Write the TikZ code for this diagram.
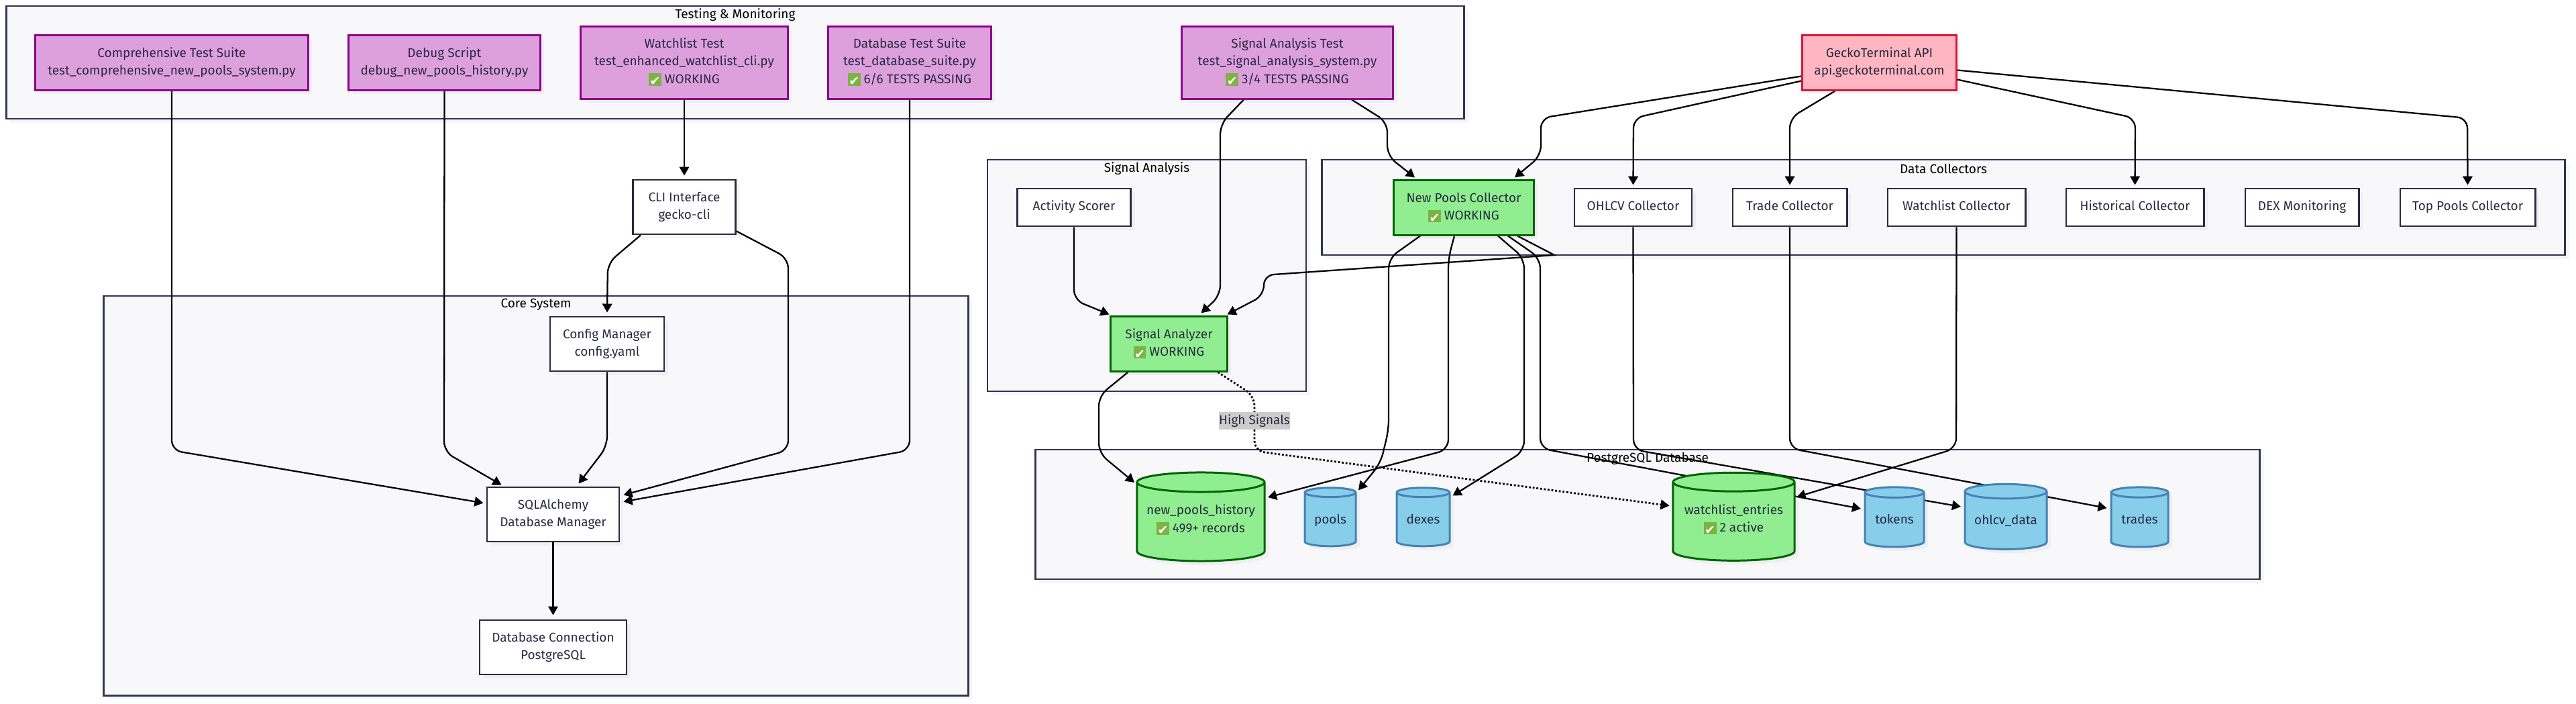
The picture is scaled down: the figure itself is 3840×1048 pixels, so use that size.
\documentclass[tikz,border=0pt]{standalone}
\usepackage{fontspec}
\setmainfont{Fira Sans}
\newfontfamily\symfont{DejaVu Sans}
\usetikzlibrary{arrows.meta,shapes.geometric,shadows}
\definecolor{ink}{RGB}{42,42,66}
\definecolor{rim}{RGB}{51,51,85}
\definecolor{pale}{RGB}{248,248,251}
\definecolor{plum}{RGB}{221,160,221}
\definecolor{plumrim}{RGB}{139,0,139}
\definecolor{mint}{RGB}{144,238,144}
\definecolor{mintrim}{RGB}{0,100,0}
\definecolor{rose}{RGB}{255,182,193}
\definecolor{roserim}{RGB}{220,20,60}
\definecolor{sky}{RGB}{135,206,235}
\definecolor{skyrim}{RGB}{70,130,180}
\definecolor{okgreen}{RGB}{124,179,66}
\newcommand{\okmark}{\smash{\raisebox{-1pt}{\setlength{\fboxsep}{0pt}\colorbox{okgreen}{\makebox[5.3pt]{\rule{0pt}{5.3pt}\textcolor{white}{\fontsize{5.4}{5}\symfont ✔}}}}}}
\newcommand{\labelfont}{\fontsize{5.4}{7.5}\selectfont}
\pgfdeclarelayer{frames}
\pgfdeclarelayer{wires}
\pgfsetlayers{frames,wires,main}
\tikzset{
  >={Triangle[length=1.3mm,width=1.45mm]},
  soft/.style={drop shadow={shadow xshift=0.06cm,shadow yshift=-0.06cm,opacity=0.07}},
  cluster/.style={draw=rim,fill=pale,line width=0.75pt,soft,inner sep=0pt},
  clustertitle/.style={font=\labelfont,text=black,inner sep=0pt},
  box/.style={draw=#1,line width=0.85pt,soft,align=center,inner sep=0pt,text=ink,
    font=\labelfont,text depth=2pt,text height=4.8pt},
  two lines/.style={text height=12.4pt},
  three lines/.style={text height=19.4pt},
  plain/.style={box=ink,fill=white,line width=0.8pt},
  test/.style={box=plumrim,fill=plum},
  live/.style={box=mintrim,fill=mint},
  api/.style={box=roserim,fill=rose},
  db/.style={cylinder,shape border rotate=90,draw=#1,line width=0.85pt,soft,align=center,
    inner sep=0pt,text=ink,font=\labelfont,text depth=2pt,text height=5.4pt},
  skydb/.style={db=skyrim,fill=sky},
  mintdb/.style={db=mintrim,fill=mint,text height=10.6pt},
  flow/.style={->,line width=0.65pt,black,rounded corners=0.15cm},
  hint/.style={flow,line width=0.8pt,dash pattern=on 0.8pt off 0.8pt},
  tag/.style={fill=black!20,text=ink,inner sep=0pt,minimum width=1.04cm,minimum height=0.26cm,
    font=\labelfont},
}
\begin{document}
\begin{tikzpicture}[x=0.01cm,y=-0.01cm]
  \useasboundingbox (0,0) rectangle (3840,1048);
  % groups
  \begin{pgfonlayer}{frames}
    \node[cluster,minimum width=21.72cm,minimum height=1.68cm] (testing) at (1096,93) {};
    \node[cluster,minimum width=4.75cm,minimum height=3.45cm] (signal) at (1709.5,410.5) {};
    \node[cluster,minimum width=18.52cm,minimum height=1.42cm] (collectors) at (2897,309) {};
    \node[cluster,minimum width=12.88cm,minimum height=5.95cm] (core) at (799,738.5) {};
    \node[cluster,minimum width=18.24cm,minimum height=1.93cm] (postgres) at (2456,766.5) {};
    \node[clustertitle] (testingtitle) at (1096,22) {Testing \& Monitoring};
    \node[clustertitle] (signaltitle) at (1709.5,251) {Signal Analysis};
    \node[clustertitle] (collectorstitle) at (2897,251) {Data Collectors};
    \node[clustertitle] (coretitle) at (799,454) {Core System};
    \node[clustertitle] (postgrestitle) at (2456,683) {PostgreSQL Database};
  \end{pgfonlayer}
  % tests
  \node[test,two lines,minimum width=4.06cm,minimum height=0.81cm] (suite) at (256,93.5) {Comprehensive Test Suite\\test\_comprehensive\_new\_pools\_system.py};
  \node[test,two lines,minimum width=2.85cm,minimum height=0.81cm] (debug) at (662.5,93.5) {Debug Script\\debug\_new\_pools\_history.py};
  \node[test,three lines,minimum width=3.08cm,minimum height=1.07cm] (wltest) at (1020,93.5) {Watchlist Test\\test\_enhanced\_watchlist\_cli.py\\\okmark{} WORKING};
  \node[test,three lines,minimum width=2.42cm,minimum height=1.07cm] (dbtest) at (1356,93.5) {Database Test Suite\\test\_database\_suite.py\\\okmark{} 6/6 TESTS PASSING};
  \node[test,three lines,minimum width=3.14cm,minimum height=1.07cm] (sigtest) at (1919,93.5) {Signal Analysis Test\\test\_signal\_analysis\_system.py\\\okmark{} 3/4 TESTS PASSING};
  % core
  \node[plain,two lines,minimum width=1.53cm,minimum height=0.81cm] (cli) at (1020,308.5) {CLI Interface\\gecko-cli};
  \node[plain,two lines,minimum width=1.70cm,minimum height=0.81cm] (config) at (905,512.5) {Config Manager\\config.yaml};
  \node[plain,two lines,minimum width=1.97cm,minimum height=0.81cm] (dbman) at (824.5,766.5) {SQLAlchemy\\Database Manager};
  \node[plain,two lines,minimum width=2.19cm,minimum height=0.81cm] (dbconn) at (824.5,964.5) {Database Connection\\PostgreSQL};
  % collectors
  \node[api,two lines,minimum width=2.29cm,minimum height=0.81cm] (gecko) at (2801.5,93.5) {GeckoTerminal API\\api.geckoterminal.com};
  \node[live,two lines,minimum width=2.08cm,minimum height=0.81cm] (newpools) at (2182,309.5) {New Pools Collector\\\okmark{} WORKING};
  \foreach \name/\x/\w/\label in {ohlcv/2434.5/1.75/OHLCV Collector,trade/2668/1.70/Trade Collector,
      wlcoll/2916.5/2.05/Watchlist Collector,hist/3182.5/2.05/Historical Collector,
      dex/3431.5/1.69/DEX Monitoring,top/3678.5/2.01/Top Pools Collector}
    \node[plain,minimum width=\w cm,minimum height=0.56cm] (\name) at (\x,309) {\label};
  % signals
  \node[plain,minimum width=1.69cm,minimum height=0.56cm] (scorer) at (1601,309) {Activity Scorer};
  \node[live,two lines,minimum width=1.73cm,minimum height=0.81cm] (analyzer) at (1742.5,512.5) {Signal Analyzer\\\okmark{} WORKING};
  % tables
  \node[mintdb,minimum width=1.90cm,minimum height=1.32cm,aspect=0.18] (history) at (1790,778) {new\_pools\_history\\\okmark{} 499+ records};
  \node[mintdb,minimum width=1.81cm,minimum height=1.31cm,aspect=0.19] (wlentries) at (2584.5,777.5) {watchlist\_entries\\\okmark{} 2 active};
  \foreach \name/\x/\y/\w/\h/\a/\label in {pools/1983/774.5/0.76/0.87/0.29/pools,dexes/2121.5/774.5/0.79/0.87/0.28/dexes,
      tokens/2824/775/0.88/0.89/0.27/tokens,ohlcvdata/2990/776/1.22/0.97/0.23/ohlcv\_data,trades/3189.5/775/0.85/0.89/0.28/trades}
    \node[skydb,minimum width=\w cm,minimum height=\h cm,aspect=\a] (\name) at (\x,\y) {\label};
  % connectors
  \begin{pgfonlayer}{wires}
    \draw[flow] (suite.south) -- (256,671) -- ([shift={(-104,-17)}]dbman.center);
    \draw[flow] (debug.south) -- (662,673) -- ([shift={(-77,-2)}]dbman.north);
    \draw[flow] (wltest.south) -- ([yshift=0.05cm]cli.north);
    \draw[flow] ([shift={(-65,0)}]cli.south) -- (906,392) -- ([yshift=0.05cm]config.north);
    \draw[flow] ([shift={(0,36)}]cli.east) -- (1175,385) -- (1175,671) -- ([shift={(5,-29)}]dbman.east);
    \draw[flow] (dbtest.south) -- (1356,671) -- ([shift={(5,-19)}]dbman.east);
    \draw[flow] (config.south) -- (905,665) -- ([shift={(38,-4)}]dbman.north);
    \draw[flow] (dbman.south) -- ([yshift=0.06cm]dbconn.north);
    \draw[flow] ([shift={(-65,0)}]sigtest.south) -- (1819,185) -- (1819,440) -- ([shift={(48,-4)}]analyzer.north);
    \draw[flow] ([shift={(96,0)}]sigtest.south) -- (2068,182) -- (2068,232) -- ([shift={(-73,-3)}]newpools.north);
    \draw[flow] ([shift={(0,20)}]gecko.west) -- (2297,176) -- (2297,232) -- ([shift={(76,-3)}]newpools.north);
    \draw[flow] ([shift={(0,27)}]gecko.west) -- (2435,176) -- ([yshift=0.04cm]ohlcv.north);
    \draw[flow] ([shift={(-66,0)}]gecko.south) -- (2668,176) -- ([yshift=0.04cm]trade.north);
    \draw[flow] ([shift={(0,25)}]gecko.east) -- (3183,176) -- ([yshift=0.04cm]hist.north);
    \draw[flow] ([shift={(0,11)}]gecko.east) -- (3678,176) -- ([yshift=0.04cm]top.north);
    \draw[flow] (scorer.south) -- (1601,447) -- ([shift={(-1,-2)}]analyzer.north west);
    \draw[flow] ([shift={(80,0)}]newpools.south) [sharp corners] -- (2317,380) [rounded corners=0.15cm] -- (1884,410) -- (1884,440) -- ([shift={(-1,-2)}]analyzer.north east);
    \draw[flow] ([shift={(-61,0)}]analyzer.south) -- (1638,590) -- (1638,675) -- ([shift={(-99,-59)}]history.center);
    \draw[hint] ([shift={(73,0)}]analyzer.south) -- (1870,590) -- (1870,672) -- ([shift={(-96,-24)}]wlentries.center);
    \draw[flow] ([shift={(-65,0)}]newpools.south) -- (2070,385) -- (2070,640) -- (2058,690) -- ([shift={(42,-44)}]pools.center);
    \draw[flow] ([shift={(-14,0)}]newpools.south) -- (2159,385) -- (2159,670) -- ([shift={(100,-37)}]history.center);
    \draw[flow] ([shift={(51,0)}]newpools.south) -- (2272,385) -- (2272,672) -- ([shift={(44,-36)}]dexes.center);
    \draw[flow] ([shift={(66,0)}]newpools.south) -- (2296,385) -- (2296,668) -- ([shift={(-50,-17)}]tokens.center);
    \draw[flow] (ohlcv.south) -- (2435,670) -- ([shift={(-67,-21)}]ohlcvdata.center);
    \draw[flow] (trade.south) -- (2668,668) -- ([shift={(-49,-18)}]trades.center);
    \draw[flow] (wlcoll.south) -- (2916,668) -- ([shift={(94,-37)}]wlentries.center);
  \end{pgfonlayer}
  \node[tag] (high) at (1870,627) {High Signals};
\end{tikzpicture}
\end{document}
